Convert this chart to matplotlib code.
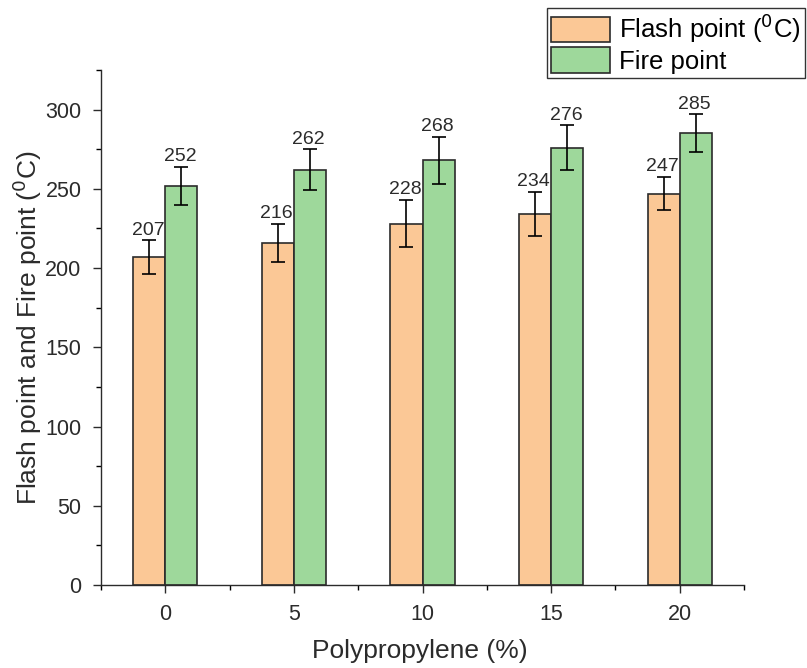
import matplotlib.pyplot as plt
import numpy as np
from matplotlib.ticker import MultipleLocator

plt.rcParams["font.family"] = ["Liberation Sans", "DejaVu Sans"]

pp_levels = ["0", "5", "10", "15", "20"]
flash_point = [207, 216, 228, 234, 247]
fire_point = [252, 262, 268, 276, 285]
flash_err = [10.5, 12, 15, 14, 10.5]
fire_err = [12, 13, 15, 14, 12]

ORANGE = "#FBC896"
GREEN = "#9ED89B"
EDGE = "#2b2b2b"
TEXT = "#2b2b2b"

fig = plt.figure(figsize=(8.07, 6.68), dpi=100)
ax = fig.add_axes([0.1252, 0.1243, 0.7968, 0.7709])

x = np.arange(len(pp_levels))
width = 0.25

bars_flash = ax.bar(x - width / 2, flash_point, width, color=ORANGE,
                    edgecolor=EDGE, linewidth=1.2, label="Flash point ($^0$C)")
bars_fire = ax.bar(x + width / 2, fire_point, width, color=GREEN,
                   edgecolor=EDGE, linewidth=1.2, label="Fire point")
ax.errorbar(x - width / 2, flash_point, yerr=flash_err, fmt="none",
            ecolor="black", elinewidth=1.2, capsize=5, capthick=1.2)
ax.errorbar(x + width / 2, fire_point, yerr=fire_err, fmt="none",
            ecolor="black", elinewidth=1.2, capsize=5, capthick=1.2)

# value labels sit just above the error bar caps
for xs, vals, errs in [(x - width / 2, flash_point, flash_err),
                       (x + width / 2, fire_point, fire_err)]:
    for xi, v, e in zip(xs, vals, errs):
        ax.text(xi - 0.01, v + e + 1.0, str(v), ha="center", va="bottom",
                fontsize=14, color=TEXT)

ax.set_xlim(-0.5, 4.5)
ax.set_ylim(0, 325)
ax.set_xticks(x)
ax.set_xticklabels(pp_levels)
ax.xaxis.set_minor_locator(MultipleLocator(0.5))
ax.yaxis.set_major_locator(MultipleLocator(50))
ax.yaxis.set_minor_locator(MultipleLocator(25))
ax.tick_params(axis="both", which="major", direction="out", length=6,
               width=1, labelsize=15.5, colors=TEXT)
ax.tick_params(axis="both", which="minor", direction="out", length=3.5,
               width=1)
ax.tick_params(axis="x", which="major", pad=8)
ax.tick_params(axis="y", which="major", pad=8)

for side in ["top", "right"]:
    ax.spines[side].set_visible(False)
for side in ["left", "bottom"]:
    ax.spines[side].set_linewidth(1)
    ax.spines[side].set_color(TEXT)

ax.set_xlabel("Polypropylene (%)", fontsize=19, color=TEXT)
ax.xaxis.set_label_coords(0.496, -0.105)
ax.set_ylabel("Flash point and Fire point ($^0$C)", fontsize=19,
              labelpad=1, color=TEXT)

leg = fig.legend(handles=[bars_flash, bars_fire], loc="upper right",
                 bbox_to_anchor=(805 / 807, 1 - 8 / 668),
                 bbox_transform=fig.transFigure, fontsize=18.5,
                 frameon=True, fancybox=False, borderaxespad=0,
                 handlelength=2.3, handleheight=1.15, labelspacing=0.08,
                 handletextpad=0.35, borderpad=0.15)
leg.get_frame().set_edgecolor("black")
leg.get_frame().set_linewidth(1)
for t in leg.get_texts():
    t.set_color("black")

fig.savefig("out.png", dpi=100)
